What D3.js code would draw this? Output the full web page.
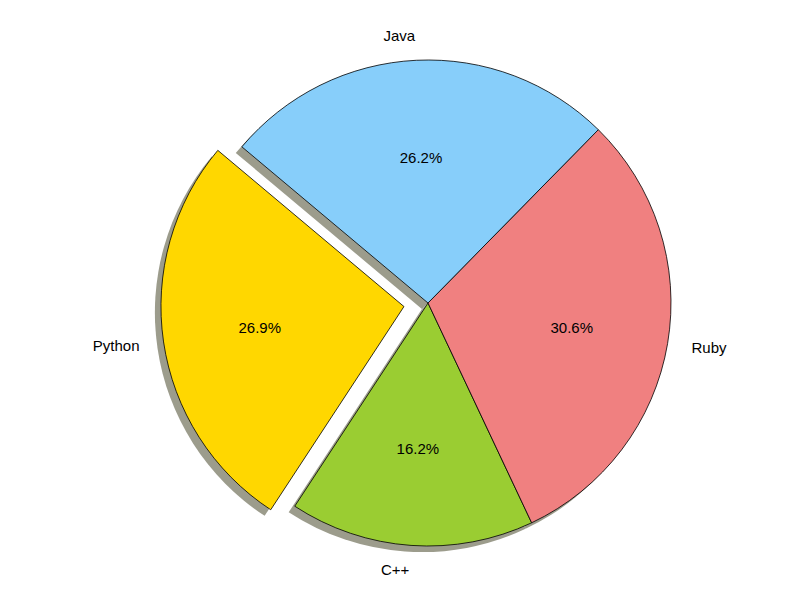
<!DOCTYPE html>
<html><head><meta charset="utf-8">
<script src="https://cdn.jsdelivr.net/npm/d3@7"></script>
<style>body{margin:0;background:#fff}text{font-family:"Liberation Sans",Arial,sans-serif;font-size:15px}</style>
</head><body><svg id="chart"></svg>
<script>
const labels = ['Python', 'C++', 'Ruby', 'Java'];
const sizes = [215, 130, 245, 210];
const colors = ['#FFD700', '#9ACD32', '#F08080', '#87CEFA'];
const explode = [0.1, 0, 0, 0];

const W = 812, H = 612, cx = 428, cy = 303, R = 243;
const svg = d3.select('#chart').attr('width', W).attr('height', H);
const toRad = Math.PI / 180;
// matplotlib startangle 140, counter-clockwise => d3 angle runs negative
const start = (90 - 140) * toRad;
const pie = d3.pie().sort(null).startAngle(start).endAngle(start - 2 * Math.PI);
const arcs = pie(sizes);
const arc = d3.arc().innerRadius(0).outerRadius(R);
const total = d3.sum(sizes);

// round half to even, like python's %1.1f on these values
function pct(v) {
  const x = v * 10, f = Math.floor(x);
  const r = Math.abs(x - f - 0.5) < 1e-9 ? (f % 2 === 0 ? f : f + 1) : Math.round(x);
  return (r / 10).toFixed(1) + '%';
}

function offset(d, i, f) {
  const a = (d.startAngle + d.endAngle) / 2;
  return [Math.sin(a) * R * f, -Math.cos(a) * R * f];
}

const sh = 0.025 * R;
// shadows
arcs.forEach((d, i) => {
  const o = offset(d, i, explode[i]);
  svg.append('path').attr('d', arc(d))
    .attr('transform', `translate(${cx + o[0] - sh},${cy + o[1] + sh})`)
    .attr('fill', '#9c9c8c');
});
arcs.forEach((d, i) => {
  const o = offset(d, i, explode[i]);
  const g = svg.append('g').attr('transform', `translate(${cx + o[0]},${cy + o[1]})`);
  g.append('path').attr('d', arc(d)).attr('fill', colors[i])
    .attr('stroke', '#000').attr('stroke-width', 0.8).attr('stroke-linejoin', 'round');
  const a = (d.startAngle + d.endAngle) / 2;
  const lx = Math.sin(a) * R * 1.1, ly = -Math.cos(a) * R * 1.1;
  g.append('text').attr('x', lx).attr('y', ly).attr('dy', '0.35em')
    .attr('text-anchor', lx > 0 ? 'start' : 'end').text(labels[i]);
  g.append('text').attr('x', Math.sin(a) * R * 0.6).attr('y', -Math.cos(a) * R * 0.6)
    .attr('dy', '0.35em').attr('text-anchor', 'middle')
    .text(pct(sizes[i] / total * 100));
});
</script></body></html>
